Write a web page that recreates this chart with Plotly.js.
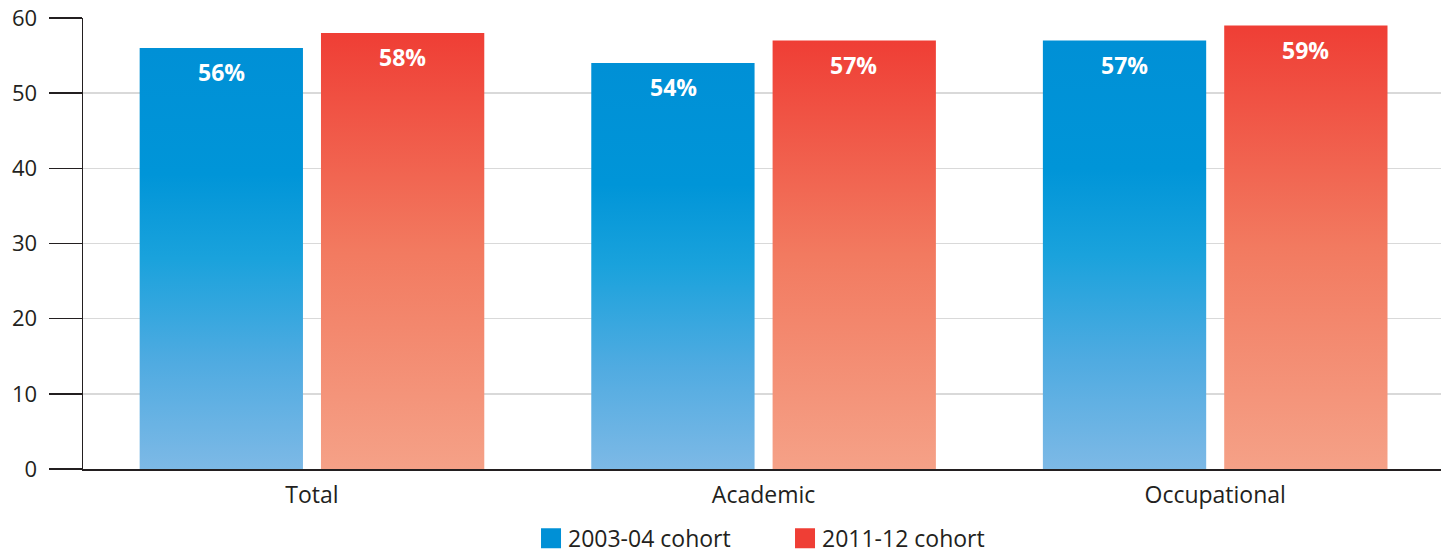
<!DOCTYPE html>
<html>
<head>
<meta charset="utf-8">
<script src="https://cdn.plot.ly/plotly-3.0.1.min.js"></script>
<style>html,body{margin:0;padding:0;background:#fff;}#chart{width:1443px;height:554px;}</style>
</head>
<body>
<div id="chart"></div>
<script>
var categories = ["Total", "Academic", "Occupational"];
var seriesNames = ["2003-04 cohort", "2011-12 cohort"];
var cohort2003 = [56, 54, 57];
var cohort2011 = [58, 57, 59];
var yTicks = [0, 10, 20, 30, 40, 50, 60];

var FONT = "Open Sans, Noto Sans, sans-serif";
var INK = "#231f20";
var blue = "#0090d6", red = "#ef3e35";

var traces = [
  {type: "bar", name: seriesNames[0], x: categories, y: cohort2003,
   marker: {color: blue, line: {width: 0}}, hoverinfo: "none"},
  {type: "bar", name: seriesNames[1], x: categories, y: cohort2011,
   marker: {color: red, line: {width: 0}}, hoverinfo: "none"}
];

var annotations = [];
[cohort2003, cohort2011].forEach(function (vals, s) {
  vals.forEach(function (v, i) {
    annotations.push({
      x: i + (s === 0 ? -0.2 : 0.2), y: v, xref: "x", yref: "y",
      text: "<b>" + v + "%</b>", showarrow: false,
      yanchor: "middle", yshift: -24,
      font: {family: FONT, size: 23, color: "#ffffff"}
    });
  });
});

var layout = {
  width: 1443, height: 554,
  margin: {l: 83, r: 2, t: 18, b: 85, autoexpand: false},
  paper_bgcolor: "#ffffff", plot_bgcolor: "#ffffff",
  barmode: "group", bargap: 0.197, bargroupgap: 0.0994,
  font: {family: FONT, color: INK},
  xaxis: {
    type: "category", range: [-0.507, 2.5],
    showline: true, linecolor: INK, linewidth: 1.5,
    ticks: "", showgrid: false, ticklabelstandoff: 5,
    tickfont: {family: FONT, size: 23, color: INK}
  },
  yaxis: {
    range: [0, 60], tickvals: yTicks, ticktext: yTicks.map(String),
    showline: true, linecolor: INK, linewidth: 1.5,
    ticks: "outside", ticklen: 33, tickwidth: 1.5, tickcolor: INK,
    showgrid: true, gridcolor: "#d9d9d9", gridwidth: 1.5,
    zeroline: false, ticklabelstandoff: 7,
    tickfont: {family: FONT, size: 22, color: INK}
  },
  showlegend: true,
  legend: {
    orientation: "h", x: 0.3277, xanchor: "left", y: -0.106, yanchor: "top",
    font: {family: FONT, size: 23, color: INK},
    itemclick: false, itemdoubleclick: false, traceorder: "normal",
    entrywidthmode: "pixels", entrywidth: 209
  },
  annotations: annotations
};

Plotly.newPlot("chart", traces, layout, {staticPlot: true, displayModeBar: false}).then(function (gd) {
  var svg = gd.querySelector(".main-svg");
  var NS = "http://www.w3.org/2000/svg";
  var defs = svg.querySelector("defs") || svg.insertBefore(document.createElementNS(NS, "defs"), svg.firstChild);
  function grad(id, stops) {
    var g = document.createElementNS(NS, "linearGradient");
    g.setAttribute("id", id);
    g.setAttribute("x1", "0"); g.setAttribute("y1", "0");
    g.setAttribute("x2", "0"); g.setAttribute("y2", "1");
    stops.forEach(function (s) {
      var st = document.createElementNS(NS, "stop");
      st.setAttribute("offset", s[0]);
      st.setAttribute("stop-color", s[1]);
      g.appendChild(st);
    });
    defs.appendChild(g);
  }
  grad("gBlue", [["0", "#0090d6"], ["0.3", "#0095d8"], ["0.5", "#1aa2dc"], ["0.75", "#50abe1"], ["1", "#7db9e6"]]);
  grad("gRed", [["0", "#ef3e35"], ["0.5", "#f27a60"], ["1", "#f5a187"]]);
  var ids = ["gBlue", "gRed"];
  gd.querySelectorAll(".barlayer .trace").forEach(function (t, k) {
    t.querySelectorAll("path").forEach(function (p) { p.style.fill = "url(#" + ids[k] + ")"; });
  });
  gd.querySelectorAll(".legend .legendpoints path").forEach(function (p) {
    p.setAttribute("d", "M13,10H-7V-10H13Z");
  });
});
</script>
</body>
</html>
